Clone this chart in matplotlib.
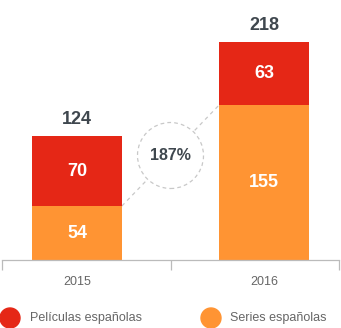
import matplotlib.pyplot as plt
from matplotlib.patches import Ellipse

years = ["2015", "2016"]
series_es = [54, 155]
peliculas_es = [70, 63]
growth_label = "187%"

red = "#E52716"
orange = "#FF9433"
dark = "#3F474E"
grid = "#BBBBBB"

plt.rcParams['font.family'] = ['Liberation Sans', 'DejaVu Sans']

fig = plt.figure(figsize=(3.41, 3.28), dpi=100)
ax = fig.add_axes([2 / 341, 1 - 260 / 328, 337 / 341, 240 / 328])

x = list(range(len(years)))
w = 0.48
totals = [a + b for a, b in zip(series_es, peliculas_es)]

ax.bar(x, series_es, width=w, color=orange, zorder=2)
ax.bar(x, peliculas_es, width=w, bottom=series_es, color=red, zorder=2)

for i in x:
    ax.text(i, series_es[i] / 2, str(series_es[i]), ha="center", va="center",
            color="white", fontsize=13, fontweight="bold")
    ax.text(i, series_es[i] + peliculas_es[i] / 2, str(peliculas_es[i]), ha="center",
            va="center", color="white", fontsize=13, fontweight="bold")
    ax.text(i, totals[i] + 17, str(totals[i]), ha="center", va="center",
            color=dark, fontsize=13, fontweight="bold", clip_on=False)

# dashed connector + growth circle
x0, y0 = x[0] + w / 2, series_es[0]
x1, y1 = x[1] - w / 2, series_es[1]
ax.plot([x0, x1], [y0, y1], ls=(0, (3, 3)), color="#C8C8C8", lw=0.9, zorder=1)
cx, cy = (x0 + x1) / 2, (y0 + y1) / 2
ax.add_patch(Ellipse((cx, cy), 66 / 187, 66, facecolor="white", edgecolor="#C8C8C8",
                     ls=(0, (3, 2.5)), lw=0.9, zorder=3))
ax.text(cx, cy, growth_label, ha="center", va="center", color=dark, fontsize=11.5,
        fontweight="bold", zorder=4)

ax.set_xlim(-0.401, 1.401)
ax.set_ylim(0, 240)
for s in ["top", "right", "left"]:
    ax.spines[s].set_visible(False)
ax.spines["bottom"].set_color(grid)
ax.spines["bottom"].set_linewidth(0.9)
ax.set_yticks([])
ax.set_xticks([-0.401, 0.5, 1.401])
ax.set_xticklabels([])
ax.tick_params(axis="x", length=7, color=grid, width=0.9, direction="out")
for i in x:
    ax.text(i, -22, years[i], ha="center", va="center", color="#666666",
            fontsize=9, clip_on=False)

# legend
fig.add_artist(Ellipse((10 / 341, 1 - 318 / 328), 20 / 341, 20 / 328,
                       transform=fig.transFigure, color=red))
fig.add_artist(Ellipse((211 / 341, 1 - 318 / 328), 20 / 341, 20 / 328,
                       transform=fig.transFigure, color=orange))
fig.text(30 / 341, 1 - 318 / 328, "Películas españolas", ha="left", va="center",
         color="#666666", fontsize=9)
fig.text(230 / 341, 1 - 318 / 328, "Series españolas", ha="left", va="center",
         color="#666666", fontsize=9)

fig.savefig("out.png", dpi=100)
